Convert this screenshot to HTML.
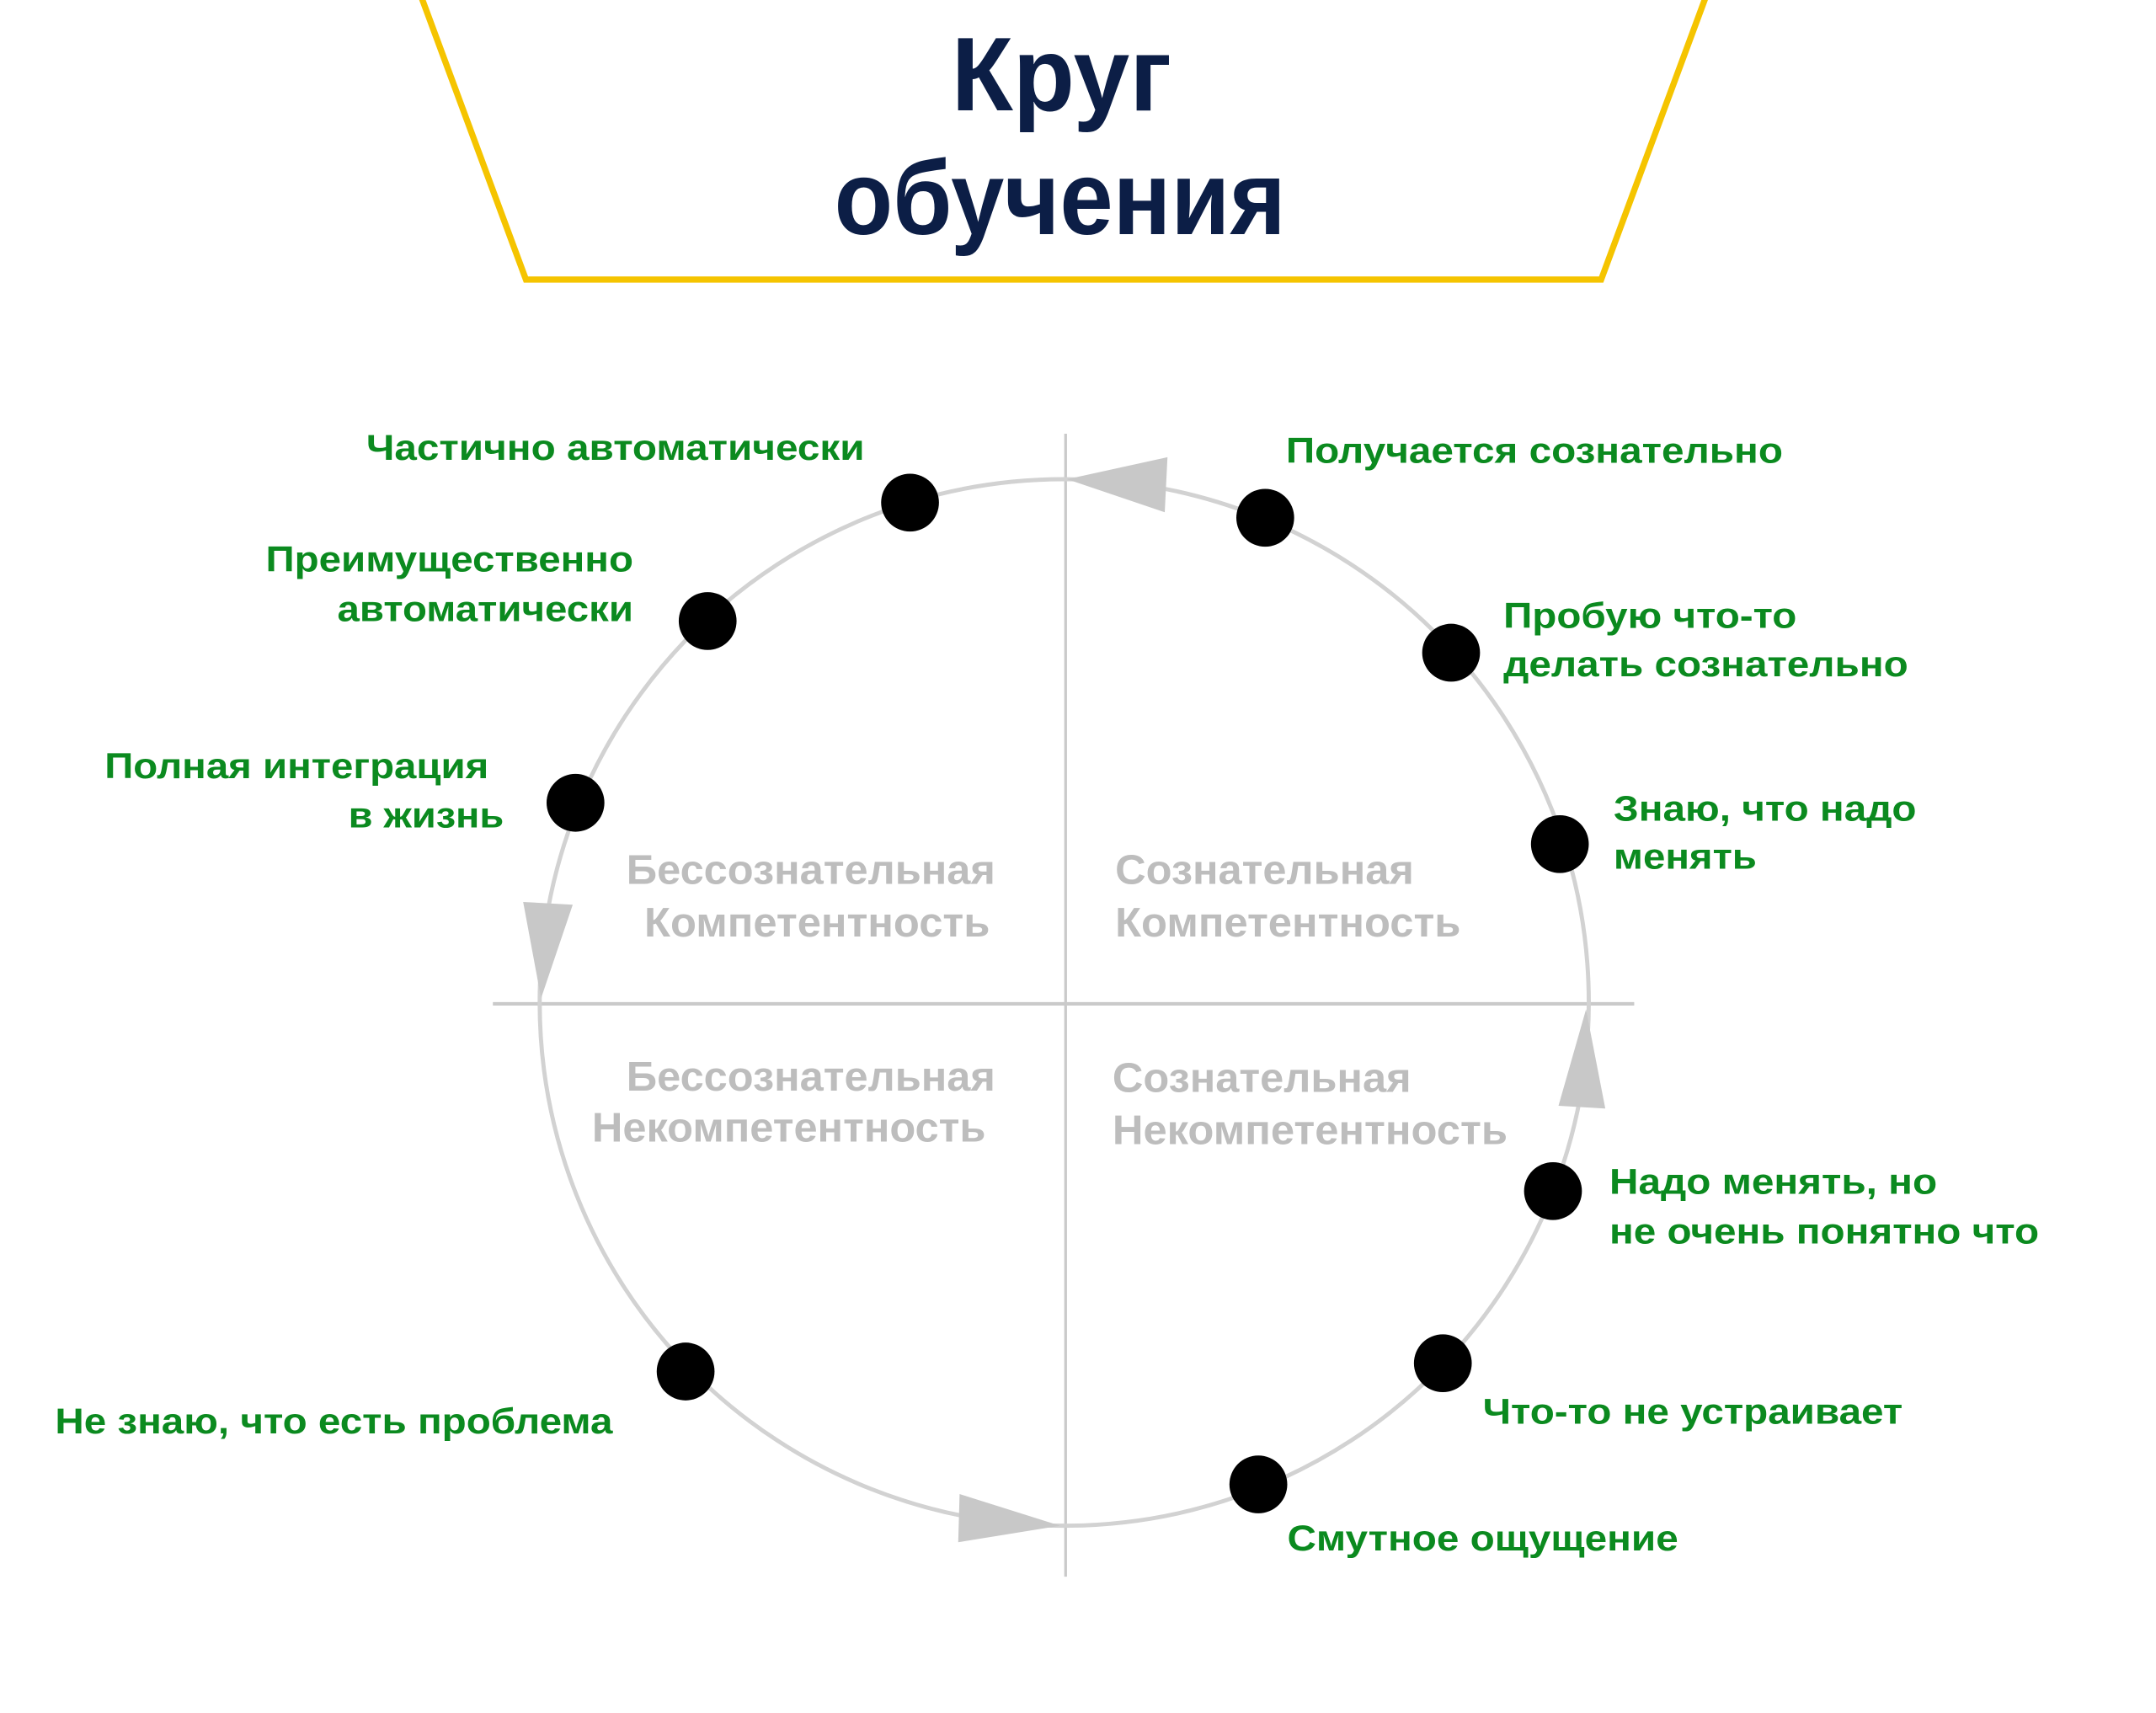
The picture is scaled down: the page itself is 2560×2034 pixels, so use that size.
<!DOCTYPE html>
<html><head><meta charset="utf-8"><style>
html,body{margin:0;padding:0;background:#fff;width:2560px;height:2034px;overflow:hidden}
svg{display:block}
.g{font-family:"Liberation Sans",sans-serif;font-weight:bold;fill:#0b8a1f;font-size:26px}
.q{font-family:"Liberation Sans",sans-serif;font-weight:bold;fill:#bdbdbd;font-size:30px}
.t{font-family:"Liberation Sans",sans-serif;font-weight:bold;fill:#0c1e46;font-size:76px}
</style></head><body>
<svg width="2560" height="2034" viewBox="0 0 1566 1244" preserveAspectRatio="none" xmlns="http://www.w3.org/2000/svg">
<polyline points="305,-5 382,203 1163,203 1240,-5" fill="none" stroke="#f5c400" stroke-width="4.5"/>
<text class="t" x="771" y="80" text-anchor="middle" textLength="160" lengthAdjust="spacingAndGlyphs">Круг</text>
<text class="t" x="770" y="170" text-anchor="middle" textLength="328" lengthAdjust="spacingAndGlyphs">обучения</text>

<line x1="774" y1="315" x2="774" y2="1145" stroke="#cacaca" stroke-width="2"/>
<line x1="358" y1="729" x2="1187" y2="729" stroke="#cacaca" stroke-width="2.5"/>
<ellipse cx="773" cy="728" rx="381" ry="380" fill="none" stroke="#d2d2d2" stroke-width="3"/>

<polygon points="775,348 848,332 846,372" fill="#c8c8c8"/>
<polygon points="393,725 380,655 416,657" fill="#c8c8c8"/>
<polygon points="770,1108 697,1085 696,1120" fill="#c8c8c8"/>
<polygon points="1152,733 1132,803 1166,805" fill="#c8c8c8"/>

<g fill="#000">
<circle cx="661" cy="365" r="21"/><circle cx="514" cy="451" r="21"/><circle cx="418" cy="583" r="21"/>
<circle cx="919" cy="376" r="21"/><circle cx="1054" cy="474" r="21"/><circle cx="1133" cy="613" r="21"/>
<circle cx="1128" cy="865" r="21"/><circle cx="1048" cy="990" r="21"/><circle cx="914" cy="1078" r="21"/>
<circle cx="498" cy="996" r="21"/>
</g>

<text class="g" x="266" y="334" textLength="362" lengthAdjust="spacingAndGlyphs">Частично автоматически</text>
<text class="g" x="193" y="415" textLength="267" lengthAdjust="spacingAndGlyphs">Преимущественно</text>
<text class="g" x="245" y="451" textLength="215" lengthAdjust="spacingAndGlyphs">автоматически</text>
<text class="g" x="76" y="565" textLength="279" lengthAdjust="spacingAndGlyphs">Полная интеграция</text>
<text class="g" x="253" y="601" textLength="113" lengthAdjust="spacingAndGlyphs">в жизнь</text>
<text class="g" x="934" y="336" textLength="361" lengthAdjust="spacingAndGlyphs">Получается сознательно</text>
<text class="g" x="1092" y="456" textLength="213" lengthAdjust="spacingAndGlyphs">Пробую что-то</text>
<text class="g" x="1092" y="491" textLength="294" lengthAdjust="spacingAndGlyphs">делать сознательно</text>
<text class="g" x="1172" y="596" textLength="220" lengthAdjust="spacingAndGlyphs">Знаю, что надо</text>
<text class="g" x="1172" y="631" textLength="104" lengthAdjust="spacingAndGlyphs">менять</text>
<text class="g" x="1169" y="867" textLength="238" lengthAdjust="spacingAndGlyphs">Надо менять, но</text>
<text class="g" x="1169" y="903" textLength="312" lengthAdjust="spacingAndGlyphs">не очень понятно что</text>
<text class="g" x="1077" y="1034" textLength="305" lengthAdjust="spacingAndGlyphs">Что-то не устраивает</text>
<text class="g" x="935" y="1126" textLength="284" lengthAdjust="spacingAndGlyphs">Смутное ощущение</text>
<text class="g" x="40" y="1041" textLength="405" lengthAdjust="spacingAndGlyphs">Не знаю, что есть проблема</text>

<text class="q" x="455" y="642" textLength="268" lengthAdjust="spacingAndGlyphs">Бессознательная</text>
<text class="q" x="468" y="680" textLength="251" lengthAdjust="spacingAndGlyphs">Компетентность</text>
<text class="q" x="810" y="642" textLength="217" lengthAdjust="spacingAndGlyphs">Сознательная</text>
<text class="q" x="810" y="680" textLength="251" lengthAdjust="spacingAndGlyphs">Компетентность</text>
<text class="q" x="455" y="792" textLength="268" lengthAdjust="spacingAndGlyphs">Бессознательная</text>
<text class="q" x="430" y="829" textLength="286" lengthAdjust="spacingAndGlyphs">Некомпетентность</text>
<text class="q" x="808" y="793" textLength="217" lengthAdjust="spacingAndGlyphs">Сознательная</text>
<text class="q" x="808" y="831" textLength="287" lengthAdjust="spacingAndGlyphs">Некомпетентность</text>
</svg>
</body></html>
